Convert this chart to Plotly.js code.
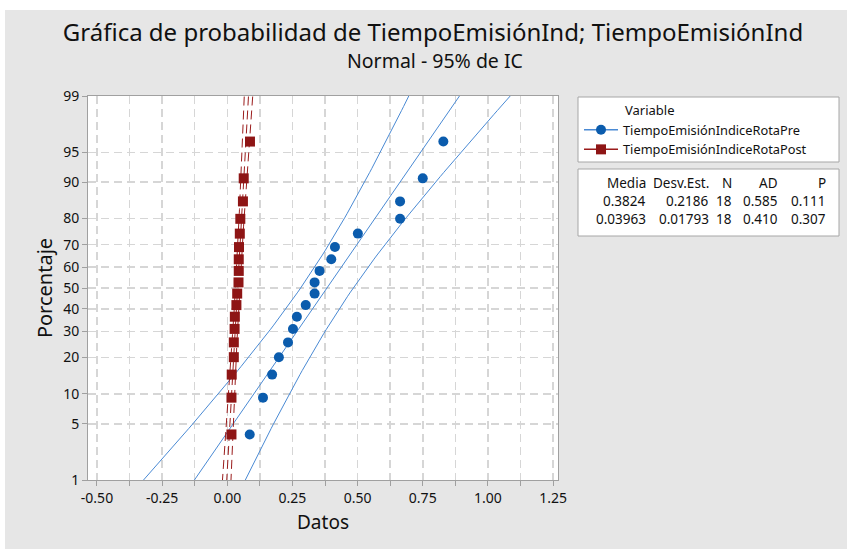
<!DOCTYPE html>
<html>
<head>
<meta charset="utf-8">
<script src="https://cdn.plot.ly/plotly-3.0.1.min.js"></script>
<style>
  html, body { margin: 0; padding: 0; background: #ffffff; }
  #chart { position: absolute; left: 5px; top: 10px; width: 842px; height: 539px; }
</style>
</head>
<body>
<div id="chart"></div>
<script>
// ---------------- data ----------------
const seriesNames = ["TiempoEmisiónIndiceRotaPre", "TiempoEmisiónIndiceRotaPost"];
const preValues  = [0.086, 0.137, 0.172, 0.198, 0.233, 0.252, 0.267, 0.301, 0.335, 0.335, 0.354, 0.399, 0.413, 0.501, 0.663, 0.663, 0.750, 0.829];
const postValues = [0.016, 0.016, 0.017, 0.025, 0.025, 0.028, 0.029, 0.035, 0.038, 0.043, 0.044, 0.044, 0.045, 0.048, 0.050, 0.060, 0.063, 0.087];
// plotting positions (percent) of the ordered observations
const percents = [3.8, 9.2, 14.7, 20.1, 25.5, 31.0, 36.4, 41.8, 47.3, 52.7, 58.2, 63.6, 69.0, 74.5, 79.9, 85.3, 90.8, 96.2];
// summary table
const statHeaders = ["Media", "Desv.Est.", "N", "AD", "P"];
const means = [0.3824, 0.03963];
const stdevs = [0.2186, 0.01793];
const counts = [18, 18];
const adValues = [0.585, 0.410];
const pValues = [0.111, 0.307];
const statRows = [
  ["0.3824", "0.2186", "18", "0.585", "0.111"],
  ["0.03963", "0.01793", "18", "0.410", "0.307"]
];
// axis ticks
const yTickPercents = [1, 5, 10, 20, 30, 40, 50, 60, 70, 80, 90, 95, 99];
const xTickVals = [-0.5, -0.375, -0.25, -0.125, 0, 0.125, 0.25, 0.375, 0.5, 0.625, 0.75, 0.875, 1, 1.125, 1.25];
const xTickText = ["-0.50", "", "-0.25", "", "0.00", "", "0.25", "", "0.50", "", "0.75", "", "1.00", "", "1.25"];
const confLevel = 0.95;
const titleText = "Gráfica de probabilidad de TiempoEmisiónInd; TiempoEmisiónInd";
const subtitleText = "Normal - 95% de IC";

// ---------------- helpers ----------------
function norminv(p) {
  const a = [-3.969683028665376e+01, 2.209460984245205e+02, -2.759285104469687e+02, 1.383577518672690e+02, -3.066479806614716e+01, 2.506628277459239e+00];
  const b = [-5.447609879822406e+01, 1.615858368580409e+02, -1.556989798598866e+02, 6.680131188771972e+01, -1.328068155288572e+01];
  const c = [-7.784894002430293e-03, -3.223964580411365e-01, -2.400758277161838e+00, -2.549732539343734e+00, 4.374664141464968e+00, 2.938163982698783e+00];
  const d = [7.784695709041462e-03, 3.224671290700398e-01, 2.445134137142996e+00, 3.754408661907416e+00];
  const pl = 0.02425, ph = 1 - pl;
  let q, r;
  if (p < pl) {
    q = Math.sqrt(-2 * Math.log(p));
    return (((((c[0]*q + c[1])*q + c[2])*q + c[3])*q + c[4])*q + c[5]) / ((((d[0]*q + d[1])*q + d[2])*q + d[3])*q + 1);
  } else if (p <= ph) {
    q = p - 0.5; r = q * q;
    return (((((a[0]*r + a[1])*r + a[2])*r + a[3])*r + a[4])*r + a[5]) * q / (((((b[0]*r + b[1])*r + b[2])*r + b[3])*r + b[4])*r + 1);
  } else {
    q = Math.sqrt(-2 * Math.log(1 - p));
    return -(((((c[0]*q + c[1])*q + c[2])*q + c[3])*q + c[4])*q + c[5]) / ((((d[0]*q + d[1])*q + d[2])*q + d[3])*q + 1);
  }
}
// points separated by gaps so the legend shows line+marker without joining points
function gapped(arr) {
  const out = [];
  arr.forEach((v, i) => { out.push(v); if (i < arr.length - 1) out.push(null); });
  return out;
}

const zPoints = percents.map(p => norminv(p / 100));
const zc = norminv(1 - (1 - confLevel) / 2);
// z grid for the fitted line and its confidence bands
const zCurve = [];
for (let k = -270; k <= 270; k += 5) zCurve.push(k / 100);

const blueLine = "#4a8ad4";
const blueMark = "#0b5cad";
const redLine = "#9a1b1b";
const redMark = "#8e1515";

const traces = [];
function addSeries(idx, values, lineCol, markCol, symbol, dash) {
  const m = means[idx], s = stdevs[idx], n = counts[idx];
  const fit = zCurve.map(z => m + z * s);
  const half = zCurve.map(z => zc * s * Math.sqrt((1 + z * z / 2) / n));
  const lineStyle = { color: lineCol, width: 1, dash: dash };
  traces.push({ x: fit, y: zCurve, mode: "lines", line: lineStyle, showlegend: false, hoverinfo: "skip" });
  traces.push({ x: fit.map((f, i) => f - half[i]), y: zCurve, mode: "lines", line: lineStyle, showlegend: false, hoverinfo: "skip" });
  traces.push({ x: fit.map((f, i) => f + half[i]), y: zCurve, mode: "lines", line: lineStyle, showlegend: false, hoverinfo: "skip" });
  traces.push({
    x: gapped(values), y: gapped(zPoints), name: seriesNames[idx],
    mode: "lines+markers", connectgaps: false,
    line: { color: lineCol, width: 1.5 },
    marker: { color: markCol, size: 10, symbol: symbol }
  });
}
addSeries(0, preValues, blueLine, blueMark, "circle", "solid");
addSeries(1, postValues, redLine, redMark, "square", "9px,5px");

// ---------------- layout (pixel helpers for boxes) ----------------
const L = 88, T = 96, W = 470, H = 384;       // plot area in page pixels
const px = x => (x - L) / W;
const py = y => (T + H - y) / H;
const FONT = "Noto Sans, Open Sans, sans-serif";
const TXT = "#111111";

const shapes = [
  { type: "rect", xref: "paper", yref: "paper", x0: px(578), x1: px(839), y0: py(97), y1: py(162),
    fillcolor: "#ffffff", line: { color: "#a6a6a6", width: 1 }, layer: "below" },
  { type: "rect", xref: "paper", yref: "paper", x0: px(578), x1: px(839), y0: py(169), y1: py(236),
    fillcolor: "#ffffff", line: { color: "#a6a6a6", width: 1 }, layer: "below" }
];
const colRight = [648, 711, 734, 780, 828];
const rowY = [183, 201, 219];
const annotations = [];
statHeaders.forEach((h, j) => annotations.push({
  xref: "paper", yref: "paper", x: px(colRight[j]), y: py(rowY[0]), xanchor: "right", yanchor: "middle",
  text: h, showarrow: false, font: { family: FONT, size: 13.5, color: TXT }
}));
statRows.forEach((row, r) => row.forEach((v, j) => annotations.push({
  xref: "paper", yref: "paper", x: px(colRight[j]), y: py(rowY[r + 1]), xanchor: "right", yanchor: "middle",
  text: v, showarrow: false, font: { family: FONT, size: 13.5, color: TXT }
})));
// subtitle
annotations.push({
  xref: "paper", yref: "paper", x: px(435), y: py(60), xanchor: "center", yanchor: "middle",
  text: subtitleText, showarrow: false, font: { family: FONT, size: 19.5, color: TXT }
});

const layout = {
  width: 842, height: 539,
  margin: { l: 83, r: 289, t: 86, b: 69 },
  paper_bgcolor: "#e6e6e6",
  plot_bgcolor: "#ffffff",
  font: { family: FONT, color: TXT },
  title: {
    text: titleText,
    font: { family: FONT, size: 24, color: TXT },
    x: (433 - 5) / 842, xanchor: "center", xref: "container",
    y: 1 - (14 / 539), yanchor: "top", yref: "container"
  },
  xaxis: {
    range: [-0.5345, 1.269],
    tickmode: "array", tickvals: xTickVals, ticktext: xTickText,
    ticks: "outside", ticklen: 5, tickcolor: "#a0a0a0",
    tickfont: { family: FONT, size: 14, color: TXT },
    showline: true, linecolor: "#a0a0a0", linewidth: 1, mirror: true,
    showgrid: true, gridcolor: "#d6d6d6", gridwidth: 1.5, griddash: "8px,5px",
    zeroline: false,
    title: { text: "Datos", font: { family: FONT, size: 19, color: TXT }, standoff: 9 }
  },
  yaxis: {
    range: [norminv(0.01), norminv(0.99)],
    tickmode: "array", tickvals: yTickPercents.map(p => norminv(p / 100)), ticktext: yTickPercents.map(String),
    ticks: "outside", ticklen: 5, tickcolor: "#a0a0a0",
    tickfont: { family: FONT, size: 14, color: TXT },
    showline: true, linecolor: "#a0a0a0", linewidth: 1, mirror: true,
    showgrid: true, gridcolor: "#d6d6d6", gridwidth: 1.5, griddash: "8px,5px",
    zeroline: false,
    title: { text: "Porcentaje", font: { family: FONT, size: 20, color: TXT }, standoff: 5 }
  },
  legend: {
    x: px(579), y: py(98), xanchor: "left", yanchor: "top",
    bgcolor: "rgba(0,0,0,0)", borderwidth: 0,
    font: { family: FONT, size: 12.8, color: TXT },
    itemwidth: 34, tracegroupgap: 0,
    title: { text: "\u00a0\u00a0\u00a0\u00a0\u00a0\u00a0\u00a0\u00a0\u00a0\u00a0\u00a0\u00a0\u00a0Variable", font: { family: FONT, size: 13, color: TXT } }
  },
  shapes: shapes,
  annotations: annotations,
  showlegend: true
};

Plotly.newPlot("chart", traces, layout, { displayModeBar: false, staticPlot: true });
</script>
</body>
</html>
